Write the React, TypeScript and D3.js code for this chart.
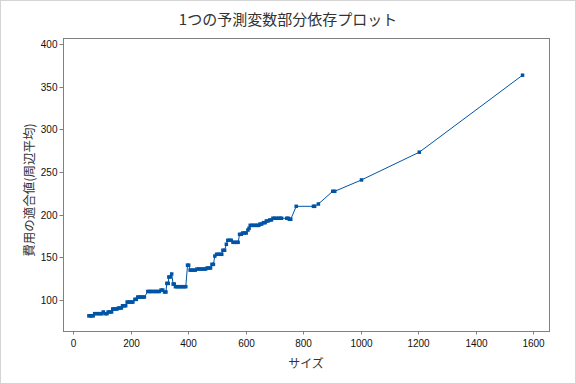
import { useMemo } from 'react';
import * as d3 from 'd3';

const title = '1つの予測変数部分依存プロット';
const xLabel = 'サイズ';
const yLabel = '費用の適合値(周辺平均)';

const sizes = [
  55, 60, 65, 70, 75, 82, 88, 95, 100, 105, 112, 118, 122, 128, 134, 138, 143, 148, 153,
  158, 163, 168, 172, 178, 183, 188, 193, 198, 203, 208, 215, 220, 225, 230, 236, 242, 248,
  260, 265, 270, 276, 282, 288, 294, 300, 306, 312, 318, 323, 326, 331, 333, 338, 343, 348,
  352, 356, 362, 368, 374, 380, 386, 392, 398, 402, 407, 413, 419, 425, 431, 437, 443, 449,
  455, 461, 466, 472, 478, 483, 488, 493, 499, 505, 511, 517, 521, 527, 533, 538, 544, 550,
  556, 562, 568, 574, 579, 585, 590, 596, 602, 608, 612, 616, 622, 628, 634, 640, 646, 650,
  656, 662, 668, 672, 678, 684, 690, 695, 701, 707, 715, 720, 725, 743, 748, 752, 757, 776,
  836, 840, 853, 903, 910, 1003, 1204, 1563,
];

const costs = [
  81.5, 81.5, 81.5, 81.5, 84, 84, 84, 84, 84, 86, 84, 84, 86, 86, 86, 89.5, 89.5, 89.5, 89.5,
  90.6, 90.6, 90.6, 93.3, 93.3, 93.3, 97.6, 97.6, 97.6, 97.6, 97.6, 100.8, 100.8, 103.5, 103.5,
  103.5, 103.5, 103.5, 110, 110, 110, 110, 110, 110, 110, 110, 111.7, 111.7, 109.4, 109.4,
  119.5, 119.5, 127, 127, 130.5, 118.7, 118.7, 115.6, 115.6, 115.6, 115.6, 115.6, 115.6, 115.6,
  140.8, 140.8, 135, 135, 135, 135, 136.3, 136.3, 136.3, 136.3, 136.3, 136.3, 137.5, 137.5,
  137.5, 141.8, 141.8, 151.5, 153.6, 153.6, 153.6, 153.6, 158.3, 158.3, 165.3, 170, 170, 170,
  167.6, 167.6, 167.6, 167.6, 177, 177, 178.5, 178.5, 178.5, 182, 184, 187.5, 187.5, 187.5,
  187.5, 187.5, 187.5, 189, 189, 190.6, 190.6, 192.6, 192.6, 193.8, 193.8, 195.8, 195.8, 195.8,
  195.8, 195.8, 195.8, 195.8, 195.8, 194.6, 194.6, 209.8, 209.8, 209.8, 212.5, 227.4, 227.4,
  240.7, 273.2, 363.4,
];

const xTicks = [0, 200, 400, 600, 800, 1000, 1200, 1400, 1600];
const yTicks = [100, 150, 200, 250, 300, 350, 400];

const W = 576;
const H = 384;
const plot = { left: 63, right: 549, top: 38, bottom: 331 };
const blue = '#0054a6';
const frame = '#808080';

export default function App() {
  const x = useMemo(() => d3.scaleLinear().domain([-35, 1655]).range([plot.left, plot.right]), []);
  const y = useMemo(() => d3.scaleLinear().domain([63.7, 407]).range([plot.bottom, plot.top]), []);

  const points = sizes.map((s, i) => [s, costs[i]] as [number, number]);
  const line = d3.line<[number, number]>()
    .x(d => x(d[0]))
    .y(d => y(d[1]));

  return (
    <svg width={W} height={H} style={{ position: 'absolute', left: 0, top: 0 }}
      fontFamily="'Liberation Sans', Arial, sans-serif">
      <rect x={0.5} y={0.5} width={W - 1} height={H - 1} fill="#fff" stroke="#d4d4d4" />
      <text x={W / 2} y={25} textAnchor="middle" fontSize={15}
        fontFamily="'Noto Sans CJK JP', sans-serif" fill="#333">{title}</text>

      <rect x={plot.left + 0.5} y={plot.top + 0.5} width={plot.right - plot.left}
        height={plot.bottom - plot.top} fill="none" stroke={frame} />

      {xTicks.map(t => (
        <g key={'x' + t} transform={`translate(${Math.round(x(t)) + 0.5},${plot.bottom + 0.5})`}>
          <line y2={3} stroke={frame} />
          <text y={15} textAnchor="middle" fontSize={10} fill="#111">{t}</text>
        </g>
      ))}
      {yTicks.map(t => (
        <g key={'y' + t} transform={`translate(${plot.left + 0.5},${Math.round(y(t)) + 0.5})`}>
          <line x2={-4} stroke={frame} />
          <text x={-6} dy="0.35em" textAnchor="end" fontSize={10} fill="#111">{t}</text>
        </g>
      ))}

      <text x={(plot.left + plot.right) / 2} y={368} textAnchor="middle" fontSize={12}
        fontFamily="'Noto Sans CJK JP', sans-serif" fill="#333">{xLabel}</text>
      <text transform={`translate(34,190) rotate(-90)`}
        textAnchor="middle" fontSize={12.5}
        fontFamily="'Noto Sans CJK JP', sans-serif" fill="#333">{yLabel}</text>

      <path d={line(points) ?? ''} fill="none" stroke={blue} strokeWidth={1} />
      {points.map((d, i) => (
        <rect key={i} x={x(d[0]) - 1.75} y={y(d[1]) - 1.75} width={3.5} height={3.5} fill={blue} />
      ))}
    </svg>
  );
}
